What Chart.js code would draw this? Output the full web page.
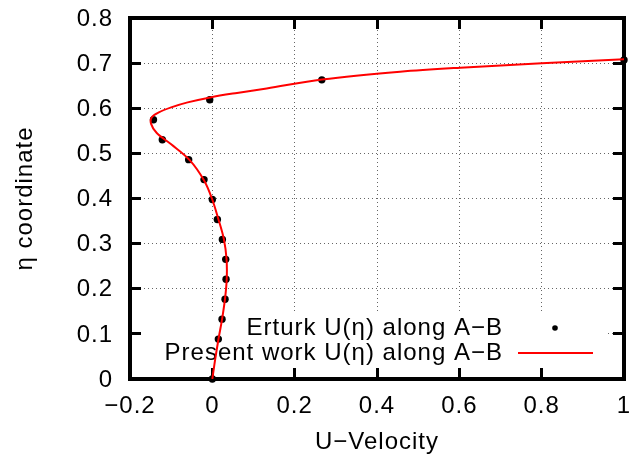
<!DOCTYPE html>
<html>
<head>
<meta charset="utf-8">
<script src="https://cdn.jsdelivr.net/npm/chart.js@4"></script>
<style>
  html, body { margin: 0; padding: 0; background: #fff; }
  #wrap { width: 634px; height: 461px; }
</style>
</head>
<body>
<div id="wrap"><canvas id="myChart" width="634" height="461"></canvas></div>
<script>
// Erturk reference points along A-B
var erturkU = [0, 0.0146, 0.0236, 0.0309, 0.0333, 0.0325, 0.0244, 0.0122, 0, -0.0202, -0.0575, -0.1215, -0.143, -0.0063, 0.266, 1];
var erturkEta = [0, 0.0884, 0.1326, 0.1768, 0.2210, 0.2652, 0.3094, 0.3536, 0.3977, 0.4419, 0.4861, 0.5303, 0.5745, 0.6187, 0.6629, 0.7071];

// present work curve
var presentU = [0, 0.007, 0.015, 0.024, 0.031, 0.035, 0.0345, 0.028, 0.0146, -0.001, -0.02, -0.055, -0.1, -0.135, -0.149, -0.147, -0.13, -0.1, -0.06, -0.005, 0.06, 0.132, 0.266, 0.456, 0.602, 0.8, 1.0];
var presentEta = [0, 0.044, 0.0886, 0.1345, 0.179, 0.222, 0.266, 0.31, 0.3545, 0.40, 0.44, 0.485, 0.52, 0.545, 0.566, 0.58, 0.591, 0.602, 0.613, 0.624, 0.634, 0.644, 0.6635, 0.681, 0.690, 0.6996, 0.7085];

var xTicks = [-0.2, 0, 0.2, 0.4, 0.6, 0.8, 1];
var yTicks = [0, 0.1, 0.2, 0.3, 0.4, 0.5, 0.6, 0.7, 0.8];

var legendLabels = ['Erturk U(\u03b7) along A\u2212B', 'Present work U(\u03b7) along A\u2212B'];
var xTitle = 'U\u2212Velocity';
var yTitle = '\u03b7 coordinate';

var FONT = '24px "Liberation Sans", Arial, sans-serif';

function toPoints(xs, ys) {
  return xs.map(function (x, i) { return {x: x, y: ys[i]}; });
}

function fmt(v) {
  var s = String(Math.round(v * 10) / 10);
  return s.replace('-', '\u2212');
}

// white key box + key text, tick labels and axis titles
function drawTexts(chart) {
  var c = chart.ctx;
  var a = chart.chartArea;
  var xs = chart.scales.x, ys = chart.scales.y;
  c.save();
  c.fillStyle = '#fff';
  c.fillRect(a.left + 12, 313, 608 - a.left - 12, a.bottom - 12 - 313);
  c.fillStyle = '#000';
  c.font = FONT;
  c.letterSpacing = '1px';
  c.textAlign = 'right';
  c.textBaseline = 'middle';
  c.fillText(legendLabels[0], 503, 328);
  c.fillText(legendLabels[1], 503, 353);
  c.beginPath();
  c.arc(555, 328, 2.8, 0, Math.PI * 2);
  c.fill();
  c.fillStyle = '#ff0000';
  c.fillRect(518, 352, 75, 2);

  c.fillStyle = '#000';
  yTicks.forEach(function (v) {
    c.fillText(fmt(v), a.left - 17, ys.getPixelForValue(v) + 1);
  });
  c.textAlign = 'center';
  xTicks.forEach(function (v) {
    c.fillText(fmt(v), xs.getPixelForValue(v), a.bottom + 27);
  });
  c.fillText(xTitle, (a.left + a.right) / 2, 442);
  c.translate(25, (a.top + a.bottom) / 2);
  c.rotate(-Math.PI / 2);
  c.fillText(yTitle, 0, 0);
  c.restore();
}

var textPlugin = {
  id: 'gnuplotText',
  beforeDatasetsDraw: function (chart) { drawTexts(chart); }
};

// one axis side of the thick frame, with ticks pointing inward
function frameSide(ticks, position, axis, size, onArea) {
  return {
    type: 'linear',
    position: position,
    axis: axis,
    min: axis === 'x' ? -0.2 : 0,
    max: axis === 'x' ? 1 : 0.8,
    afterBuildTicks: function (s) { s.ticks = ticks.map(function (v) { return {value: v}; }); },
    afterFit: function (s) { if (axis === 'x') s.height = size; else s.width = size; },
    ticks: { display: false },
    grid: {
      drawOnChartArea: onArea,
      color: '#666',
      lineWidth: 1,
      drawTicks: true,
      tickLength: -11,
      tickWidth: 3,
      tickColor: '#000'
    },
    border: { display: true, color: '#000', width: 4, dash: [1, 3] }
  };
}

var ctx = document.getElementById('myChart').getContext('2d');
var myChart = new Chart(ctx, {
  type: 'scatter',
  data: {
    datasets: [{
      label: legendLabels[1],
      data: toPoints(presentU, presentEta),
      showLine: true,
      borderColor: '#ff0000',
      borderWidth: 2,
      pointRadius: 0,
      tension: 0.35,
      fill: false
    }, {
      label: legendLabels[0],
      data: toPoints(erturkU, erturkEta),
      showLine: false,
      backgroundColor: '#000',
      borderColor: '#000',
      borderWidth: 0,
      pointRadius: 3.7,
      clip: false
    }]
  },
  options: {
    responsive: false,
    animation: false,
    layout: { padding: { top: 18, right: 10, left: 0, bottom: 0 } },
    plugins: {
      legend: { display: false },
      tooltip: { enabled: false }
    },
    scales: {
      x: frameSide(xTicks, 'bottom', 'x', 82, true),
      y: frameSide(yTicks, 'left', 'y', 130, true),
      x2: frameSide(xTicks, 'top', 'x', 0, false),
      y2: frameSide(yTicks, 'right', 'y', 0, false)
    }
  },
  plugins: [textPlugin]
});
</script>
</body>
</html>
